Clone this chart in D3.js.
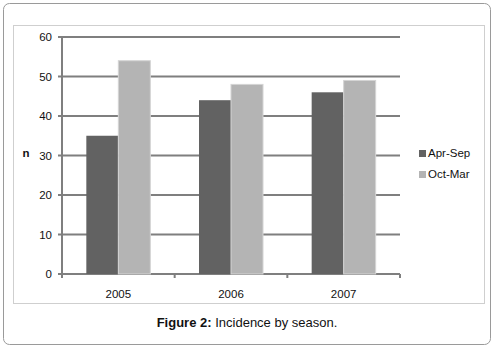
<!DOCTYPE html>
<html><head><meta charset="utf-8">
<script src="https://cdn.jsdelivr.net/npm/d3@7"></script>
<style>body{margin:0;background:#fff}svg{display:block;font-family:"Liberation Sans",Arial,sans-serif}</style>
</head><body><svg id="c" width="494" height="349"></svg>
<script>
const categories = ["2005", "2006", "2007"];
const seriesNames = ["Apr-Sep", "Oct-Mar"];
const aprSep = [35, 44, 46];
const octMar = [54, 48, 49];
const yTicks = [0, 10, 20, 30, 40, 50, 60];
const colors = ["#626262", "#b4b4b4"];

const svg = d3.select("#c");
// outer rounded frame
svg.append("rect").attr("x", 3.5).attr("y", 3.5).attr("width", 487).attr("height", 341)
  .attr("rx", 6).attr("fill", "#fff").attr("stroke", "#9a9a9a").attr("stroke-width", 1);
// chart area frame
svg.append("rect").attr("x", 13.5).attr("y", 25.5).attr("width", 471).attr("height", 278)
  .attr("fill", "#fff").attr("stroke", "#cfcfcf").attr("stroke-width", 1);

const pL = 62, pR = 400, pT = 37, pB = 274;
const x0 = d3.scaleBand().domain(categories).range([pL, pR]).padding(0);
const y = d3.scaleLinear().domain([0, 60]).range([pB, pT]);
const barW = 32;

// gridlines
svg.append("g").selectAll("line").data(yTicks).join("line")
  .attr("x1", pL - 4).attr("x2", pR).attr("y1", d => y(d)).attr("y2", d => y(d))
  .attr("stroke", "#7f7f7f").attr("stroke-width", 2);
// y axis line
svg.append("line").attr("x1", pL).attr("x2", pL).attr("y1", pT).attr("y2", pB + 4)
  .attr("stroke", "#7f7f7f").attr("stroke-width", 2);
// x ticks at category boundaries
const bounds = categories.map(c => x0(c)).concat([pR]);
svg.append("g").selectAll("line").data(bounds).join("line")
  .attr("x1", d => d).attr("x2", d => d).attr("y1", pB).attr("y2", pB + 4)
  .attr("stroke", "#7f7f7f").attr("stroke-width", 2);

const data = categories.map((c, i) => ({c, vals: [aprSep[i], octMar[i]]}));
const g = svg.append("g");
data.forEach(d => {
  const cx = x0(d.c) + x0.bandwidth() / 2;
  d.vals.forEach((v, k) => {
    g.append("rect")
      .attr("x", cx - barW + k * barW).attr("y", y(v))
      .attr("width", barW).attr("height", y(0) - y(v))
      .attr("fill", colors[k])
      .attr("stroke", k === 1 ? "#d4d4d4" : "none").attr("stroke-width", 1);
  });
});

// y tick labels
svg.append("g").selectAll("text").data(yTicks).join("text")
  .attr("x", 52).attr("y", d => y(d) + 4).attr("text-anchor", "end")
  .attr("font-size", 11.5).attr("fill", "#111").text(d => d);
// x labels
svg.append("g").selectAll("text").data(categories).join("text")
  .attr("x", c => x0(c) + x0.bandwidth() / 2).attr("y", 298).attr("text-anchor", "middle")
  .attr("font-size", 11.5).attr("fill", "#111").text(c => c);
// y title
svg.append("text").attr("x", 26).attr("y", 157).attr("text-anchor", "middle")
  .attr("font-size", 11.5).attr("font-weight", "bold").attr("fill", "#111").text("n");

// legend
seriesNames.forEach((s, i) => {
  const ly = 157 + i * 21;
  svg.append("rect").attr("x", 419).attr("y", ly - 7).attr("width", 7).attr("height", 7).attr("fill", colors[i]);
  svg.append("text").attr("x", 428).attr("y", ly).attr("font-size", 11.5).attr("fill", "#111").text(s);
});

// caption
const cap = svg.append("text").attr("x", 247).attr("y", 327).attr("text-anchor", "middle")
  .attr("font-size", 13).attr("fill", "#111");
cap.append("tspan").attr("font-weight", "bold").text("Figure 2:");
cap.append("tspan").text(" Incidence by season.");
</script></body></html>
